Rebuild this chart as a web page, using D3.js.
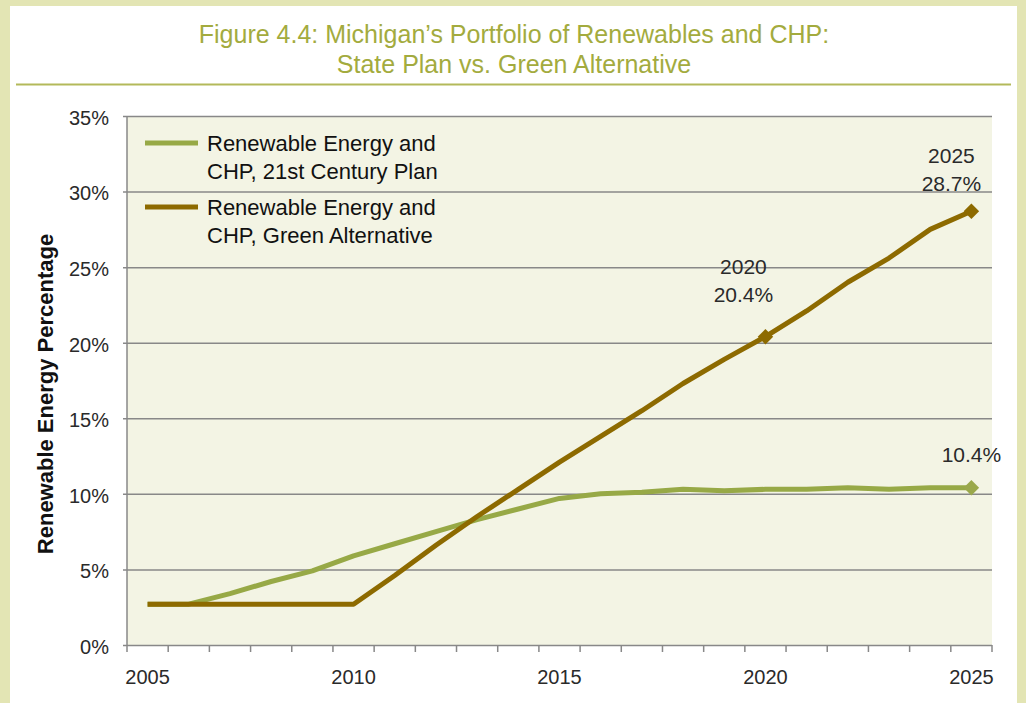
<!DOCTYPE html>
<html>
<head>
<meta charset="utf-8">
<script src="https://d3js.org/d3.v7.min.js"></script>
<style>
  html, body { margin: 0; padding: 0; background: #fff; }
  svg { display: block; font-family: "Liberation Sans", Arial, sans-serif; }
</style>
</head>
<body>
<div id="chart"></div>
<script>
// chart data
const years = d3.range(2005, 2026);
const planValues = [2.7, 2.7, 3.4, 4.2, 4.9, 5.9, 6.7, 7.5, 8.3, 9.0, 9.7,
    10.0, 10.1, 10.3, 10.2, 10.3, 10.3, 10.4, 10.3, 10.4, 10.4];
const greenValues = [2.7, 2.7, 2.7, 2.7, 2.7, 2.7, 4.6, 6.6, 8.5, 10.3, 12.1,
    13.8, 15.5, 17.3, 18.9, 20.4, 22.1, 24.0, 25.6, 27.5, 28.7];
const yTicks = [0, 5, 10, 15, 20, 25, 30, 35];
const xLabels = [2005, 2010, 2015, 2020, 2025];
const seriesNames = [
    ['Renewable Energy and', 'CHP, 21st Century Plan'],
    ['Renewable Energy and', 'CHP, Green Alternative']
];
const titleLines = ['Figure 4.4: Michigan\u2019s Portfolio of Renewables and CHP:', 'State Plan vs. Green Alternative'];

const width = 1026, height = 703;
const margin = { top: 116, right: 34, bottom: 58, left: 127 };
const colors = { plan: '#97a946', green: '#8d6a00', title: '#a3ab3e' };

const svg = d3.select('#chart').append('svg')
    .attr('width', width)
    .attr('height', height);

// frame
svg.append('rect').attr('width', width).attr('height', height).attr('fill', '#e3e5b4');
svg.append('rect').attr('x', 10).attr('y', 6).attr('width', 1007).attr('height', height)
    .attr('fill', '#fff');
svg.append('line').attr('x1', 16).attr('x2', 1011).attr('y1', 84.5).attr('y2', 84.5)
    .attr('stroke', '#b3b95a').attr('stroke-width', 2);

// title
svg.selectAll('.title')
    .data(titleLines)
    .enter()
    .append('text')
    .attr('x', 514)
    .attr('y', (d, i) => 43 + i * 30)
    .attr('text-anchor', 'middle')
    .attr('font-size', '25px')
    .attr('fill', colors.title)
    .text(d => d);

// scales
const x = d3.scalePoint()
    .domain(years)
    .range([margin.left, width - margin.right])
    .padding(0.5);
const step = x.step();

const y = d3.scaleLinear()
    .domain([0, 35])
    .range([height - margin.bottom, margin.top]);

// plot background
svg.append('rect')
    .attr('x', margin.left)
    .attr('y', y(35))
    .attr('width', width - margin.right - margin.left)
    .attr('height', y(0) - y(35))
    .attr('fill', '#f3f4e4');

// y gridlines + labels
const yAxis = d3.axisLeft(y)
    .tickValues(yTicks)
    .tickSize(-(width - margin.right - margin.left + 4))
    .tickFormat(d => `${d}%`);

svg.append('g')
    .attr('transform', `translate(${margin.left - 4},0)`)
    .call(yAxis)
    .call(g => g.select('.domain').remove())
    .call(g => g.selectAll('.tick line').attr('stroke', '#888').attr('stroke-width', 1.5))
    .call(g => g.selectAll('.tick text')
        .attr('x', -14)
        .attr('dy', '0.42em')
        .attr('font-size', '20px')
        .attr('fill', '#2a2a2a')
        .attr('font-family', '"Liberation Sans", Arial, sans-serif'));

// left axis line
svg.append('line')
    .attr('x1', margin.left).attr('x2', margin.left)
    .attr('y1', y(35)).attr('y2', y(0))
    .attr('stroke', '#888').attr('stroke-width', 1.5);

// x ticks at category boundaries
const boundaries = d3.range(years.length + 1).map(i => margin.left + i * step);
svg.selectAll('.xtick')
    .data(boundaries)
    .enter()
    .append('line')
    .attr('x1', d => d).attr('x2', d => d)
    .attr('y1', y(0)).attr('y2', y(0) + 7)
    .attr('stroke', '#888').attr('stroke-width', 1.5);

svg.selectAll('.xlabel')
    .data(xLabels)
    .enter()
    .append('text')
    .attr('x', d => x(d))
    .attr('y', 684)
    .attr('text-anchor', 'middle')
    .attr('font-size', '20px')
    .attr('fill', '#2a2a2a')
    .text(d => d);

// y axis title
svg.append('text')
    .attr('transform', 'translate(53,394) rotate(-90)')
    .attr('text-anchor', 'middle')
    .attr('font-size', '22px')
    .attr('font-weight', 'bold')
    .attr('fill', '#111')
    .text('Renewable Energy Percentage');

// lines
const line = d3.line()
    .x((d, i) => x(years[i]))
    .y(d => y(d));

svg.append('path')
    .datum(planValues)
    .attr('d', line)
    .attr('fill', 'none')
    .attr('stroke', colors.plan)
    .attr('stroke-width', 5)
    .attr('stroke-linejoin', 'round');

svg.append('path')
    .datum(greenValues)
    .attr('d', line)
    .attr('fill', 'none')
    .attr('stroke', colors.green)
    .attr('stroke-width', 5)
    .attr('stroke-linejoin', 'round');

// diamond markers
const diamond = d3.symbol().type(d3.symbolSquare).size(120);
const markers = [
    { year: 2025, value: planValues[20], color: '#9aa84b' },
    { year: 2020, value: greenValues[15], color: colors.green },
    { year: 2025, value: greenValues[20], color: colors.green }
];
svg.selectAll('.marker')
    .data(markers)
    .enter()
    .append('path')
    .attr('d', diamond)
    .attr('transform', d => `translate(${x(d.year)},${y(d.value)}) rotate(45)`)
    .attr('fill', d => d.color);

// annotations
const notes = [
    { lines: ['2025', '28.7%'], year: 2025, value: 28.7, dx: -20, dy: -48.5 },
    { lines: ['2020', '20.4%'], year: 2020, value: 20.4, dx: -22, dy: -62.5 },
    { lines: ['10.4%'], year: 2025, value: 10.4, dx: 0, dy: -25.5 }
];
notes.forEach(n => {
    svg.selectAll(null)
        .data(n.lines)
        .enter()
        .append('text')
        .attr('x', x(n.year) + n.dx)
        .attr('y', (d, i) => y(n.value) + n.dy + i * 28)
        .attr('text-anchor', 'middle')
        .attr('font-size', '21px')
        .attr('fill', '#2a2a2a')
        .text(d => d);
});

// legend
const legendColors = [colors.plan, colors.green];
const legend = svg.selectAll('.legend')
    .data(seriesNames)
    .enter()
    .append('g')
    .attr('transform', (d, i) => `translate(145,${143 + i * 64})`);

legend.append('line')
    .attr('x1', 0).attr('x2', 53)
    .attr('stroke', (d, i) => legendColors[i])
    .attr('stroke-width', 5);

legend.selectAll('text')
    .data(d => d)
    .enter()
    .append('text')
    .attr('x', 62)
    .attr('y', (d, i) => 8 + i * 28)
    .attr('font-size', '22px')
    .attr('fill', '#111')
    .text(d => d);
</script>
</body>
</html>
